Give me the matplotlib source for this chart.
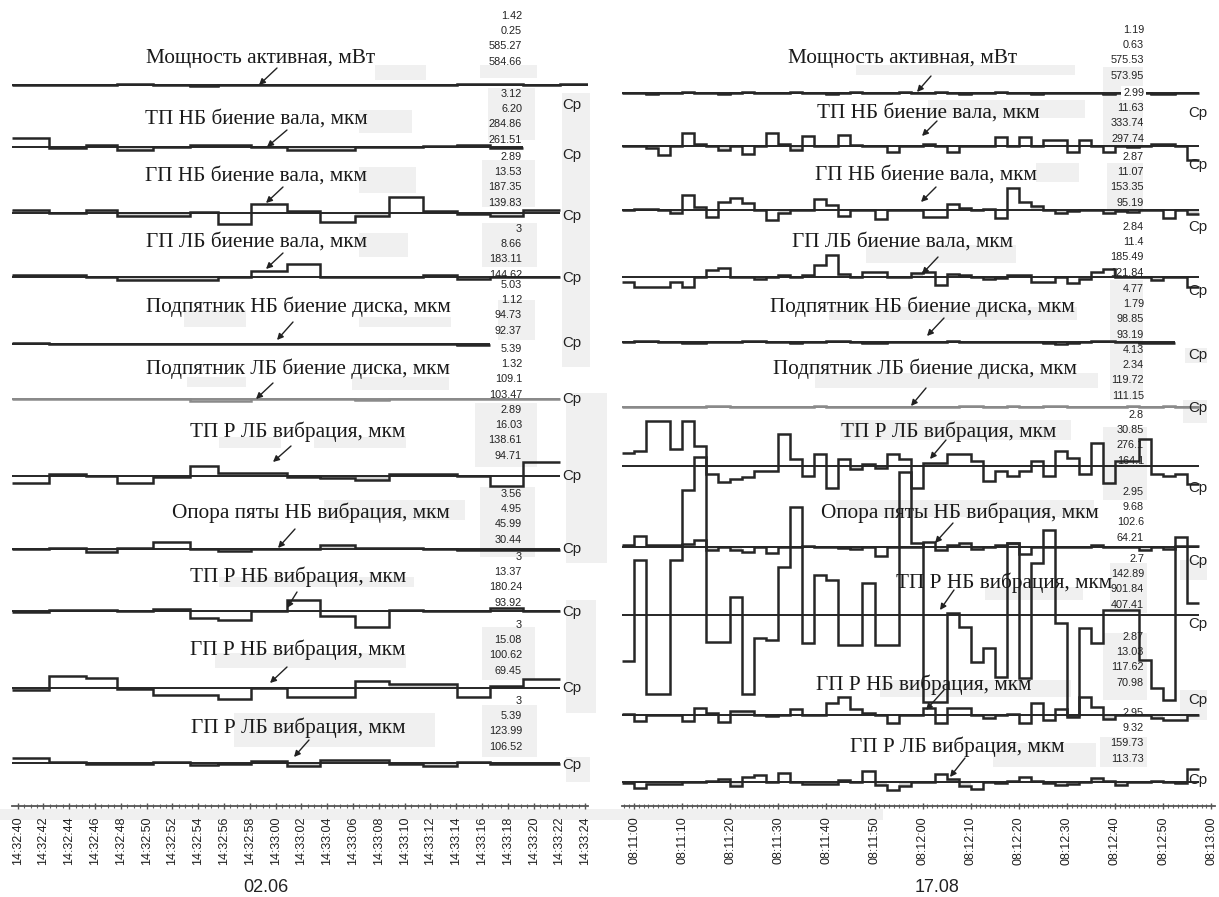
import numpy as np
import matplotlib
matplotlib.use("Agg")
import matplotlib.pyplot as plt
from matplotlib import font_manager
from matplotlib.ticker import FixedLocator, MultipleLocator

# ---------------------------------------------------------------------------
# Sample edges (seconds after the first labelled tick)
# ---------------------------------------------------------------------------
left_edges = [-0.43, 2.43, 5.30, 7.71, 10.50, 13.36, 15.53, 18.09, 20.88,
              23.44, 26.16, 28.79, 31.43, 34.06, 36.62, 39.19, 42.06, 44.77]
right_edges = [-2.5, 0.0, 2.5, 5.0, 7.5, 10.0, 12.5, 15.0, 17.5, 20.0,
               22.5, 25.0, 27.5, 30.0, 32.5, 35.0, 37.5, 40.0, 42.5, 45.0,
               47.5, 50.0, 52.5, 55.0, 57.5, 60.0, 62.5, 65.0, 67.5, 70.0,
               72.5, 75.0, 77.5, 80.0, 82.5, 85.0, 87.5, 90.0, 92.5, 95.0,
               97.5, 100.0, 102.5, 105.0, 107.5, 110.0, 112.5, 115.0, 117.5]

left_ticks = ["14:32:40", "14:32:42", "14:32:44", "14:32:46", "14:32:48",
              "14:32:50", "14:32:52", "14:32:54", "14:32:56", "14:32:58",
              "14:33:00", "14:33:02", "14:33:04", "14:33:06", "14:33:08",
              "14:33:10", "14:33:12", "14:33:14", "14:33:16", "14:33:18",
              "14:33:20", "14:33:22", "14:33:24"]
right_ticks = ["08:11:00", "08:11:10", "08:11:20", "08:11:30", "08:11:40",
               "08:11:50", "08:12:00", "08:12:10", "08:12:20", "08:12:30",
               "08:12:40", "08:12:50", "08:13:00"]
left_date = "02.06"
right_date = "17.08"

titles = ["Мощность активная, мВт",
          "ТП НБ биение вала, мкм",
          "ГП НБ биение вала, мкм",
          "ГП ЛБ биение вала, мкм",
          "Подпятник НБ биение диска, мкм",
          "Подпятник ЛБ биение диска, мкм",
          "ТП Р ЛБ вибрация, мкм",
          "Опора пяты НБ вибрация, мкм",
          "ТП Р НБ вибрация, мкм",
          "ГП Р НБ вибрация, мкм",
          "ГП Р ЛБ вибрация, мкм"]

# statistics printed beside each trace
left_stats = [["1.42", "0.25", "585.27", "584.66"],
              ["3.12", "6.20", "284.86", "261.51"],
              ["2.89", "13.53", "187.35", "139.83"],
              ["3", "8.66", "183.11", "144.62"],
              ["5.03", "1.12", "94.73", "92.37"],
              ["5.39", "1.32", "109.1", "103.47"],
              ["2.89", "16.03", "138.61", "94.71"],
              ["3.56", "4.95", "45.99", "30.44"],
              ["3", "13.37", "180.24", "93.92"],
              ["3", "15.08", "100.62", "69.45"],
              ["3", "5.39", "123.99", "106.52"]]
right_stats = [["1.19", "0.63", "575.53", "573.95"],
               ["2.99", "11.63", "333.74", "297.74"],
               ["2.87", "11.07", "153.35", "95.19"],
               ["2.84", "11.4", "185.49", "121.84"],
               ["4.77", "1.79", "98.85", "93.19"],
               ["4.13", "2.34", "119.72", "111.15"],
               ["2.8", "30.85", "276.1", "164.1"],
               ["2.95", "9.68", "102.6", "64.21"],
               ["2.7", "142.89", "901.84", "407.41"],
               ["2.87", "13.03", "117.62", "70.98"],
               ["2.95", "9.32", "159.73", "113.73"]]

# ---------------------------------------------------------------------------
# Step values: deviation of each sample from the trace mean (plot units)
# ---------------------------------------------------------------------------
L_power = [0, 0, 0, 1, 0, -1, 0, 0, 0, 0, 0, 0, 0, 1, 1, 0, 1]
L_tp_nb_shaft = [9, -1, 2, -3, 0, 2, 2, 0, -3, -3, 0, 0, 1, 2, -1]
L_gp_nb_shaft = [3, 0, 3, -3, -3, 1, -11, 9, 2, -9, -3, 16, 2, -1, -3, 3]
L_gp_lb_shaft = [2, 2, 0, -3, -3, -3, 0, 6, 13, 0, 0, 0, 2, -2, 0, 0]
L_thrust_nb = [1, 0, 0, 0, 0, 0, 0, 0, 0, 0, 0, 0, 0, -1]
L_thrust_lb = [0, 0, 0, 0, 0, -2, -2, 0, 0, 0, -1, 0, 0, 0, 0, 0]
L_tp_r_lb = [-7, 2, 0, -7, -1, 10, 3, 3, -1, -2, -4, 2, 2, 0, -10, 14]
L_support_nb = [0, 1, -3, 1, 7, 0, -2, 0, 0, 4, 1, 1, 0, -1, -1, -1]
L_tp_r_nb = [-1, 1, 1, 0, 2, -7, -9, 0, 11, -5, -16, 1, 0, 0, 3, 0]
L_gp_r_nb = [-2, 12, 10, -1, -7, -7, -11, 0, -9, -9, 7, 4, 4, -9, 2, 9]
L_gp_r_lb = [5, 1, -1, -1, 1, -2, -1, 2, -3, 3, 3, -1, -3, 1, -1, -1]

R_power = [0, 0, -1, 0, 0, 1, 0, 0,
           -1, 0, 1, 0, 0, 0, 1, 0,
           0, -1, 0, 1, 0, 0, 0, 1,
           0, 0, 1, 0, -1, 0, 0, 1,
           0, 0, -1, 0, 0, 0, 0, 0,
           -1, 0, 0, 0, -1, -1, 0, 0]
R_tp_nb_shaft = [0, 0, -2, -9, 0, 13, 2, 0,
                 -4, 0, -8, 0, 13, 2, -4, 10,
                 0, 0, 11, 1, 0, 0, -6, 0,
                 0, 2, 0, -6, 0, 0, 0, 9,
                 0, 9, 0, 6, 6, -6, 6, 0,
                 -6, 0, -1, 0, 2, 2, 0, -14]
R_gp_nb_shaft = [0, 1, 1, 0, -3, 15, 3, -7,
                 8, 12, 7, 0, -10, -3, 0, 0,
                 11, 5, -6, 0, 0, -9, 0, 0,
                 0, -7, -7, 6, 2, 0, 1, -8,
                 22, 8, 4, 0, -3, -1, 0, 0,
                 -3, -1, -2, 0, 0, -8, 0, -4]
R_gp_lb_shaft = [-5, -10, -10, -10, -5, -10, 0, 7,
                 9, 0, 0, -2, 0, 2, 0, 2,
                 12, 22, 3, 0, 5, 5, 0, 0,
                 4, 5, -8, 3, 2, 0, -2, -1,
                 2, 2, -5, -5, 0, -6, -2, 5,
                 8, 0, 0, 0, -3, 0, 0, -10]
R_thrust_nb = [0, 1, 1, 0, 0, -1, -1, 0,
               0, 0, 1, 1, 0, 0, -1, 0,
               0, 1, 1, 0, -1, -1, 0, 0,
               0, 0, 0, 1, 0, 0, 0, 0,
               0, 0, 0, -1, -2, -1, 0, 1,
               1, 0, 0, -1, -1, -1]
R_thrust_lb = [0, 0, 0, 0, 0, 0, 0, 1,
               1, 0, 0, 0, 0, 0, 0, 0,
               1, 0, 0, 0, 0, 0, 0, 0,
               0, 0, 0, 0, 1, 1, 0, 0,
               1, 0, 0, 1, 1, 0, 0, 0,
               0, 0, 1, 0, 0, 1, 0, 0]
R_tp_r_lb = [13, 15, 45, 45, 17, 45, 20, -8,
             -16, -13, -11, -5, -5, 32, 7, -10,
             12, -22, 7, -3, 2, -2, 12, 7,
             -22, 3, 3, 12, 12, 5, -15, -5,
             -10, -5, 5, -10, 15, 8, -8, 23,
             -17, 5, 5, 27, -8, -10, -8, -18]
R_support_nb = [2, 11, 2, 2, 2, 3, 7, -3,
                0, -3, -5, 0, -6, 0, 0, 1,
                0, 0, -1, -2, 0, -9, 0, 0,
                0, 5, -3, 2, 4, -2, 0, 2,
                4, -7, 0, 0, 0, 0, 0, 2,
                0, 0, 0, -3, 0, -2, 1, 1]
R_tp_r_nb = [-46, 55, -79, -79, 55, 125, 158, -27,
             -27, 18, -79, -23, -25, 48, 108, -28,
             40, 35, -30, -30, 32, -30, -30, 143,
             72, -87, -87, 2, -12, -47, -33, -62,
             72, -63, 52, 85, -8, -100, -13, -28,
             5, 5, 5, -45, -73, -85, 78, 12]
R_gp_r_nb = [1, -6, 0, 0, 0, -6, 7, 2,
             -7, 4, 4, 0, -1, 0, 6, 0,
             0, 12, 18, 6, 2, 0, -8, 0,
             0, 7, -8, 7, 7, 0, -3, 0,
             1, -8, 12, -5, 6, -2, 18, 8,
             -4, 0, 0, 0, -3, -5, -5, 0]
R_gp_r_lb = [-1, -6, -2, -2, -2, 0, 0, 1,
             3, -4, 5, 7, 0, 9, 0, -2,
             -2, -2, 2, 0, 11, -3, -8, -4,
             0, 0, 8, 3, -4, -7, 0, -1,
             1, 5, 1, -1, -3, -2, 0, 4,
             1, -3, 0, 0, 1, 0, -1, 13]

left_series = [L_power, L_tp_nb_shaft, L_gp_nb_shaft, L_gp_lb_shaft,
               L_thrust_nb, L_thrust_lb, L_tp_r_lb, L_support_nb,
               L_tp_r_nb, L_gp_r_nb, L_gp_r_lb]
right_series = [R_power, R_tp_nb_shaft, R_gp_nb_shaft, R_gp_lb_shaft,
                R_thrust_nb, R_thrust_lb, R_tp_r_lb, R_support_nb,
                R_tp_r_nb, R_gp_r_nb, R_gp_r_lb]

# ---------------------------------------------------------------------------
# Layout (figure pixels, y measured from the top)
# ---------------------------------------------------------------------------
W, H, DPI = 1219, 897, 100
AXIS_Y = 806

left_base = [85, 147, 213, 277, 344, 399, 476, 549, 611, 688, 763]
right_base = [93, 146, 210, 277, 342, 407, 466, 547, 615, 715, 782]

left_title_xy = [(261, 58), (256, 119), (256, 176), (256, 242), (298, 307),
                 (298, 369), (298, 432), (311, 513), (298, 577), (298, 650),
                 (298, 728)]
right_title_xy = [(903, 58), (928, 113), (926, 175), (903, 242), (922, 307),
                  (925, 369), (949, 432), (960, 513), (1004, 583), (924, 685),
                  (957, 747)]

left_stat_y = [16, 94, 157, 229, 285, 349, 410, 494, 557, 625, 701]
right_stat_y = [30, 93, 157, 227, 289, 350, 415, 492, 559, 637, 713]
STAT_DY = 15.2
left_stat_x, right_stat_x = 522, 1144

left_cp_y = [105, 155, 216, 278, 343, 399, 476, 549, 612, 688, 765]
right_cp_y = [113, 165, 227, 291, 355, 408, 488, 561, 624, 700, 780]
left_cp_x, right_cp_x = 562, 1188

left_arrows = [(277, 68, 259, 85), (287, 130, 267, 147), (283, 187, 266, 203),
               (283, 253, 266, 269), (293, 322, 277, 340), (273, 383, 256, 399),
               (291, 446, 273, 462), (295, 529, 278, 548), (297, 592, 287, 608),
               (287, 667, 270, 683), (309, 740, 294, 757)]
right_arrows = [(931, 76, 917, 92), (937, 121, 922, 136), (936, 187, 921, 202),
                (938, 257, 922, 274), (944, 318, 927, 336), (926, 388, 911, 406),
                (946, 440, 930, 459), (953, 523, 935, 543), (954, 590, 940, 610),
                (944, 690, 926, 710), (965, 758, 950, 777)]

# faint label-background patches
grey_boxes = [
    (480, 65, 537, 78), (488, 88, 535, 140), (482, 160, 535, 207),
    (482, 223, 537, 267), (498, 300, 535, 340), (475, 403, 537, 467),
    (480, 487, 535, 557), (482, 627, 535, 680), (482, 705, 537, 757),
    (562, 93, 590, 367), (566, 393, 607, 563), (566, 600, 596, 713),
    (566, 757, 590, 782),
    (375, 65, 426, 80), (359, 110, 412, 133), (359, 167, 416, 193),
    (359, 233, 408, 257), (184, 310, 246, 327), (359, 317, 451, 327),
    (187, 377, 246, 387), (352, 377, 449, 390), (219, 437, 281, 448),
    (314, 437, 406, 448), (324, 500, 465, 520), (219, 577, 414, 587),
    (215, 653, 406, 668), (234, 713, 435, 747),
    (856, 65, 1075, 75), (928, 100, 1085, 118), (1036, 163, 1079, 182),
    (866, 245, 1016, 263), (829, 307, 1077, 320), (815, 373, 1098, 388),
    (840, 420, 1071, 440), (836, 500, 1094, 517), (985, 587, 1083, 600),
    (880, 680, 1071, 697), (993, 743, 1096, 767),
    (1103, 67, 1143, 148), (1107, 163, 1143, 213), (1110, 280, 1143, 400),
    (1103, 427, 1147, 500), (1110, 563, 1147, 613), (1103, 633, 1147, 700),
    (1100, 737, 1147, 767), (1185, 348, 1207, 363), (1183, 400, 1207, 423),
    (1180, 690, 1207, 720), (1180, 560, 1207, 580),
    (0, 809, 883, 820),
]

# ---------------------------------------------------------------------------
names = {f.name for f in font_manager.fontManager.ttflist}
HAS_NARROW = "Liberation Sans Narrow" in names
NARROW = "Liberation Sans Narrow" if HAS_NARROW else "Liberation Sans"
TICK_SIZE = 10.5 if HAS_NARROW else 9.0
STAT_SIZE = 8.5 if HAS_NARROW else 7.8
DATE_SIZE = 15 if HAS_NARROW else 13
SERIF = "Liberation Serif"
SANS = "Liberation Sans"
INK = "#262626"
GREY_LINE = "#8a8a8a"
BOX = "#f0f0f0"


def to_seconds(label):
    h, m, s = (int(p) for p in label.split(":"))
    return h * 3600 + m * 60 + s


fig = plt.figure(figsize=(W / DPI, H / DPI), dpi=DPI)
fig.patch.set_facecolor("white")

bg = fig.add_axes([0, 0, 1, 1], zorder=0)
bg.set_xlim(0, W)
bg.set_ylim(H, 0)
bg.axis("off")
for x0, y0, x1, y1 in grey_boxes:
    bg.add_patch(plt.Rectangle((x0, y0), x1 - x0, y1 - y0, color=BOX, lw=0))


def make_panel(px0, px1, t0, px_per_s):
    ax = fig.add_axes([px0 / W, (H - AXIS_Y) / H, (px1 - px0) / W, AXIS_Y / H],
                      zorder=2)
    ax.patch.set_alpha(0)
    ax.set_xlim((px0 - t0) / px_per_s, (px1 - t0) / px_per_s)
    ax.set_ylim(AXIS_Y, 0)
    for side in ("left", "right", "top"):
        ax.spines[side].set_visible(False)
    ax.spines["bottom"].set_color("#555555")
    ax.spines["bottom"].set_linewidth(1.3)
    ax.set_yticks([])
    return ax


axL = make_panel(12, 588, 17.6, 12.9)
axR = make_panel(622, 1215, 634.0, 4.81)


def draw_trace(ax, edges, dev, base, color, lw):
    dev = np.asarray(dev, float)
    e = np.asarray(edges[:len(dev) + 1], float)
    y = base - dev
    shade = np.where((np.abs(dev) > 0) & (np.abs(dev) <= 4), y, base)
    ax.stairs(shade, e, baseline=base, fill=True, color="#d4d4d4", lw=0, zorder=1)
    ax.hlines(base, e[0], e[-1], color=color, lw=1.4, zorder=2)
    ax.stairs(y, e, baseline=None, color=color, lw=lw, zorder=3)


for i, (ls, rs) in enumerate(zip(left_series, right_series)):
    col = GREY_LINE if i == 5 else INK
    draw_trace(axL, left_edges, ls, left_base[i], col, 1.8)
    draw_trace(axR, right_edges, rs, right_base[i], col, 1.8)

# time axes
for ax, labels, minor in ((axL, left_ticks, 0.5), (axR, right_ticks, 1.0)):
    t0 = to_seconds(labels[0])
    pos = [to_seconds(s) - t0 for s in labels]
    ax.xaxis.set_major_locator(FixedLocator(pos))
    ax.set_xticklabels(labels, rotation=90, fontsize=TICK_SIZE, family=NARROW,
                       color="#1e1e1e")
    ax.xaxis.set_minor_locator(MultipleLocator(minor))
    ax.tick_params(axis="x", which="major", direction="inout", length=5,
                   width=1.0, color="#555555", pad=5)
    ax.tick_params(axis="x", which="minor", direction="inout", length=3,
                   width=0.8, color="#666666")

fg = fig.add_axes([0, 0, 1, 1], zorder=5)
fg.patch.set_alpha(0)
fg.set_xlim(0, W)
fg.set_ylim(H, 0)
fg.axis("off")

for i, t in enumerate(titles):
    for (cx, cy) in (left_title_xy[i], right_title_xy[i]):
        fg.text(cx, cy, t, ha="center", va="center", family=SERIF,
                fontsize=15.3, color="#1a1a1a")

for stats, ys, x in ((left_stats, left_stat_y, left_stat_x),
                     (right_stats, right_stat_y, right_stat_x)):
    for block, y0 in zip(stats, ys):
        for j, s in enumerate(block):
            if stats is right_stats and y0 == right_stat_y[1] and j == 0:
                continue
            fg.text(x, y0 + j * STAT_DY, s, ha="right", va="center",
                    family=NARROW, fontsize=STAT_SIZE, color="#222222")

# the power line breaks around the first statistic of the second block
fg.text(right_stat_x, right_stat_y[1], right_stats[1][0], ha="right",
        va="center", family=NARROW, fontsize=STAT_SIZE, color="#222222",
        bbox=dict(boxstyle="square,pad=0.15", fc="white", ec="none"))

for ys, x in ((left_cp_y, left_cp_x), (right_cp_y, right_cp_x)):
    for y in ys:
        fg.text(x, y, "Ср", ha="left", va="center", family=SANS,
                fontsize=10.8, color="#222222")

for arrows in (left_arrows, right_arrows):
    for x0, y0, x1, y1 in arrows:
        fg.annotate("", xy=(x1, y1), xytext=(x0, y0),
                    arrowprops=dict(arrowstyle="-|>", color="#222222", lw=1.0,
                                    mutation_scale=9, shrinkA=0, shrinkB=0))

fg.text(266, 888, left_date, ha="center", va="center", family=NARROW,
        fontsize=DATE_SIZE, color="#222222")
fg.text(937, 888, right_date, ha="center", va="center", family=NARROW,
        fontsize=DATE_SIZE, color="#222222")

fig.savefig("out.png", dpi=DPI, facecolor="white")
